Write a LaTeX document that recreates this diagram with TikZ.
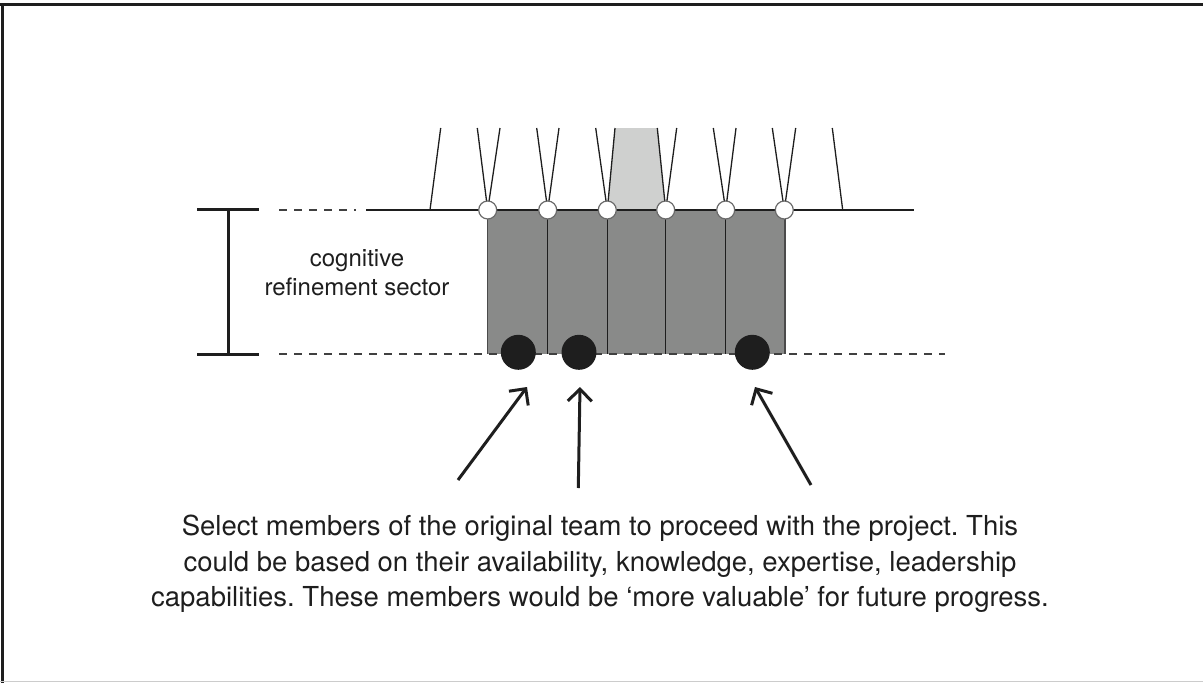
\documentclass[tikz,border=0pt]{standalone}
\usepackage{fontspec}
\setmainfont{TeX Gyre Heros}
\usetikzlibrary{arrows.meta}
\definecolor{ink}{HTML}{1E1E1E}
\definecolor{sector}{HTML}{898A89}
\definecolor{lightsect}{HTML}{CFD0CF}
\definecolor{ringline}{HTML}{6A6A6A}
\tikzset{
  thin line/.style={draw=ink, line width=1.3pt},
  dash line/.style={draw=ink!85, line width=1.2pt, dash pattern=on 8pt off 7pt},
  ring/.style={circle, fill=white, draw=ringline, line width=1.2pt, minimum size=18pt, inner sep=0pt},
  member/.style={circle, fill=ink, minimum size=35pt, inner sep=0pt},
  pointer/.style={draw=ink, line width=3pt, -{Straight Barb[length=12pt,width=24pt,line width=3pt]}},
  bar/.style={draw=ink, line width=3pt},
}
\frenchspacing
\begin{document}
\begin{tikzpicture}[x=1pt,y=-1pt]
\useasboundingbox (0,0) rectangle (1203,683);
% frame
\draw[ink, line width=3pt] (0,4.5) -- (1203,4.5);
\draw[ink, line width=2.5pt] (2.5,4) -- (2.5,683);
\draw[black!20, line width=1.5pt] (0,681.5) -- (1203,681.5);

% light grey wedge
\fill[lightsect] (615,128) -- (657.3,128) -- (665.7,210) -- (607.3,210) -- cycle;
% dark sector
\fill[sector] (487.5,210) rectangle (785,354);
\draw[thin line, draw=ink!80] (487.5,210) -- (487.5,354);
\draw[thin line, draw=ink!80] (785,210) -- (785,354);
\foreach \x in {547.7,607.3,665.7,725.7} \draw[thin line] (\x,210) -- (\x,354);

% horizontal lines
\draw[dash line] (279,210) -- (356,210);
\draw[thin line] (366,210) -- (914,210);
\draw[dash line] (279,354) -- (945,354);

% slanted lines
\draw[thin line] (440.7,128) -- (430,210);
\draw[thin line] (832.3,128) -- (842.7,210);
\foreach \a/\b/\c in {477.3/500/487.7, 536.7/559/547.7, 595.7/615/607.3, 657.3/676.7/665.7, 713.3/736/725.7, 772.3/795.7/784.3}{
  \draw[thin line] (\a,128) -- (\c,210) -- (\b,128);
}

% rings
\node[ring] (c1) at (487.7,210) {};
\node[ring] (c2) at (547.7,210) {};
\node[ring] (c3) at (607.3,210) {};
\node[ring] (c4) at (665.7,210) {};
\node[ring] (c5) at (725.7,210) {};
\node[ring] (c6) at (784.3,210) {};

% members
\node[member] (d1) at (518.3,352.3) {};
\node[member] (d2) at (579,352.3) {};
\node[member] (d3) at (752.3,352.3) {};

% I-bar
\draw[bar] (197.3,209.5) -- (259,209.5);
\draw[bar] (197.3,354.5) -- (259,354.5);
\draw[bar] (228.3,209.5) -- (228.3,354.5);

\node[text=ink, align=center, font=\fontsize{24}{29}\selectfont] (label) at (357,272.5) {cognitive\\refinement sector};

% arrows
\coordinate (s1) at (458,480);
\coordinate (t1) at (527,387);
\coordinate (s2) at (578.3,488);
\coordinate (t2) at (580,387);
\coordinate (s3) at (811,485);
\coordinate (t3) at (755,387);
\draw[pointer] (s1) -- (t1);
\draw[pointer] (s2) -- (t2);
\draw[pointer] (s3) -- (t3);

\node[text=ink, align=center, font=\fontsize{27.5}{35.5}\selectfont] (caption) at (600,564) {Select members of the original team to proceed with the project. This\\could be based on their availability, knowledge, expertise, leadership\\capabilities. These members would be ‘more valuable’ for future progress.};
\end{tikzpicture}
\end{document}
